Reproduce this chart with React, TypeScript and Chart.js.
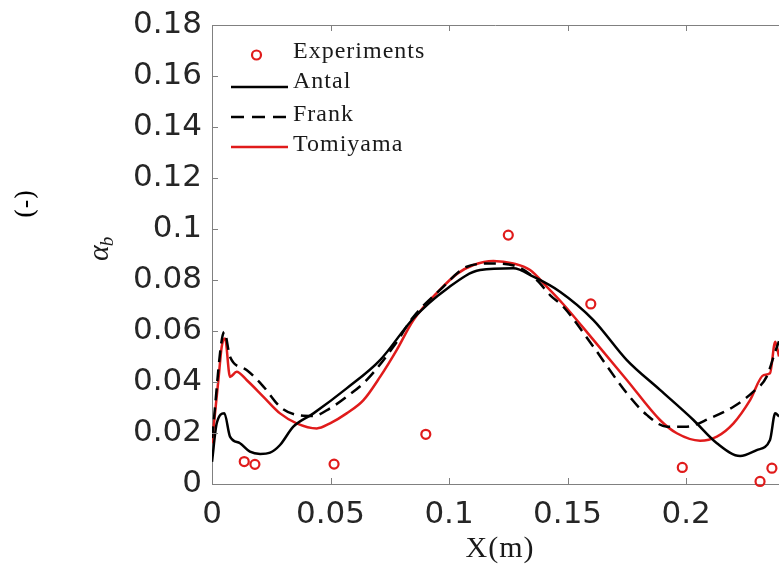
import React, { useEffect, useRef } from "react";
import { Chart, registerables } from "chart.js";
Chart.register(...registerables);

const xTicks = [0, 0.05, 0.1, 0.15, 0.2];
const yTicks = [0, 0.02, 0.04, 0.06, 0.08, 0.1, 0.12, 0.14, 0.16, 0.18];
const xMin = 0;
const xMax = 0.2392;
const yMin = 0;
const yMax = 0.18;

const expX = [0.0136, 0.0181, 0.0515, 0.0902, 0.125, 0.1598, 0.1984, 0.2312, 0.2362];
const expY = [0.0088, 0.0077, 0.0078, 0.0195, 0.0976, 0.0706, 0.0065, 0.001, 0.0062];

const antalX = [0, 0.002, 0.0052, 0.0076, 0.0118, 0.016, 0.0203, 0.0245, 0.0287, 0.0343, 0.0428, 0.0568, 0.0709, 0.085, 0.099, 0.1131, 0.1271, 0.1356, 0.1468, 0.1609, 0.175, 0.189, 0.2031, 0.213, 0.2228, 0.2298, 0.2354, 0.2376, 0.2392];
const antalY = [0.0087, 0.0238, 0.0277, 0.0186, 0.016, 0.0127, 0.0118, 0.0123, 0.0153, 0.0225, 0.0277, 0.0375, 0.0486, 0.065, 0.0765, 0.0839, 0.0846, 0.0813, 0.0754, 0.0643, 0.0486, 0.0369, 0.0251, 0.016, 0.011, 0.0133, 0.0173, 0.0277, 0.0265];

const frankX = [0, 0.0052, 0.0076, 0.0146, 0.0217, 0.0287, 0.0357, 0.0428, 0.0498, 0.0568, 0.0653, 0.0765, 0.085, 0.0962, 0.1075, 0.118, 0.128, 0.137, 0.1426, 0.1482, 0.1609, 0.175, 0.1834, 0.1919, 0.2003, 0.2101, 0.22, 0.2284, 0.234, 0.2376, 0.2392];
const frankY = [0.018, 0.0597, 0.0499, 0.0447, 0.0382, 0.0303, 0.0271, 0.0267, 0.0297, 0.0342, 0.0408, 0.0538, 0.0656, 0.0761, 0.0852, 0.0865, 0.0855, 0.08, 0.0741, 0.0695, 0.0538, 0.0356, 0.0271, 0.0225, 0.0225, 0.0258, 0.0303, 0.0362, 0.0421, 0.0519, 0.056];

const tomiX = [0, 0.0027, 0.0041, 0.0055, 0.0076, 0.0104, 0.0146, 0.0217, 0.0287, 0.0357, 0.0442, 0.0498, 0.0568, 0.0639, 0.0709, 0.0779, 0.085, 0.0962, 0.1035, 0.1103, 0.1187, 0.1271, 0.1342, 0.1412, 0.1482, 0.1609, 0.175, 0.189, 0.1961, 0.2059, 0.213, 0.22, 0.227, 0.2327, 0.2354, 0.2376, 0.2392];
const tomiY = [0.016, 0.0408, 0.0538, 0.0571, 0.042, 0.044, 0.0408, 0.0342, 0.0277, 0.0238, 0.0218, 0.0238, 0.0277, 0.0329, 0.042, 0.0525, 0.0643, 0.0762, 0.0825, 0.0859, 0.0875, 0.0865, 0.0839, 0.0774, 0.0705, 0.0565, 0.0408, 0.0251, 0.0199, 0.017, 0.0186, 0.0238, 0.0329, 0.0427, 0.0434, 0.0558, 0.05];

const RED = "#e01b1b";
const AXIS = "#808080";
const TEXT = "#262626";

const zip = (xs: number[], ys: number[]) => xs.map((x, i) => ({ x, y: ys[i] }));

const fmt = (v: number) => String(Number(v.toFixed(4)));

const decorPlugin = {
  id: "decor",
  afterDraw(chart: any) {
    const { ctx, chartArea, scales } = chart;
    const xs = scales.x;
    const ys = scales.y;
    ctx.save();
    // top border
    ctx.strokeStyle = AXIS;
    ctx.lineWidth = 1;
    ctx.beginPath();
    ctx.moveTo(chartArea.left, chartArea.top + 0.5);
    ctx.lineTo(chartArea.right, chartArea.top + 0.5);
    ctx.stroke();
    // tick marks inward
    ctx.beginPath();
    xTicks.forEach((v) => {
      const px = Math.round(xs.getPixelForValue(v)) + 0.5;
      ctx.moveTo(px, chartArea.bottom);
      ctx.lineTo(px, chartArea.bottom - 6);
      ctx.moveTo(px, chartArea.top);
      ctx.lineTo(px, chartArea.top + 6);
    });
    yTicks.forEach((v) => {
      const py = Math.round(ys.getPixelForValue(v)) + 0.5;
      ctx.moveTo(chartArea.left, py);
      ctx.lineTo(chartArea.left + 6, py);
    });
    ctx.stroke();

    // legend
    const lx0 = 231;
    const lx1 = 288;
    const tx = 293;
    ctx.font = "24px 'Liberation Serif'";
    (ctx as any).letterSpacing = "1px";
    ctx.fillStyle = "#1a1a1a";
    ctx.textBaseline = "alphabetic";
    ctx.textAlign = "left";
    // Experiments
    ctx.strokeStyle = RED;
    ctx.lineWidth = 2.2;
    ctx.beginPath();
    ctx.arc(256.5, 55, 4.5, 0, Math.PI * 2);
    ctx.stroke();
    ctx.fillText("Experiments", tx, 58);
    // Antal
    ctx.strokeStyle = "#000";
    ctx.lineWidth = 2.5;
    ctx.beginPath();
    ctx.moveTo(lx0, 87);
    ctx.lineTo(lx1, 87);
    ctx.stroke();
    ctx.fillText("Antal", tx, 88);
    // Frank
    ctx.setLineDash([13, 8]);
    ctx.beginPath();
    ctx.moveTo(lx0, 117);
    ctx.lineTo(lx1, 117);
    ctx.stroke();
    ctx.setLineDash([]);
    ctx.fillText("Frank", tx, 121);
    // Tomiyama
    ctx.strokeStyle = RED;
    ctx.beginPath();
    ctx.moveTo(lx0, 147);
    ctx.lineTo(lx1, 147);
    ctx.stroke();
    ctx.fillText("Tomiyama", tx, 151);

    // x axis title
    (ctx as any).letterSpacing = "1px";
    ctx.font = "30px 'Liberation Serif'";
    ctx.textAlign = "center";
    ctx.fillText("X(m)", 500, 557);
    (ctx as any).letterSpacing = "0px";

    // y axis title alpha_b
    ctx.save();
    ctx.translate(108, 261);
    ctx.rotate(-Math.PI / 2);
    ctx.textAlign = "left";
    ctx.font = "italic 30px 'Liberation Serif'";
    ctx.fillText("α", 0, 0);
    const aw = ctx.measureText("α").width;
    ctx.font = "italic 19px 'Liberation Serif'";
    ctx.fillText("b", aw - 1, 5);
    ctx.restore();

    // (-) label
    ctx.save();
    ctx.translate(34, 204);
    ctx.rotate(-Math.PI / 2);
    ctx.textAlign = "center";
    ctx.font = "26px 'DejaVu Serif'";
    ctx.fillStyle = "#000";
    ctx.fillText("(-)", 0, 0);
    ctx.restore();

    ctx.restore();
  },
};

export default function App() {
  const ref = useRef<HTMLCanvasElement>(null);
  useEffect(() => {
    const canvas = ref.current!;
    const lineDs = (label: string, xs: number[], ys: number[], color: string, dash: number[]) => ({
      label,
      data: zip(xs, ys),
      borderColor: color,
      backgroundColor: color,
      borderWidth: 2.5,
      borderDash: dash,
      pointRadius: 0,
      fill: false,
      tension: 0,
      cubicInterpolationMode: "monotone" as const,
    });
    const chart = new Chart(canvas, {
      type: "line",
      data: {
        datasets: [
          {
            label: "Experiments",
            data: zip(expX, expY),
            showLine: false,
            borderColor: RED,
            backgroundColor: "rgba(0,0,0,0)",
            pointRadius: 4.5,
            pointBorderWidth: 2.2,
            pointStyle: "circle",
            clip: false,
          } as any,
          lineDs("Antal", antalX, antalY, "#000000", []),
          lineDs("Frank", frankX, frankY, "#000000", [12, 7]),
          lineDs("Tomiyama", tomiX, tomiY, RED, []),
        ],
      },
      options: {
        animation: false,
        responsive: false,
        maintainAspectRatio: false,
        layout: { autoPadding: false, padding: { top: 25, right: 0, left: 0, bottom: 0 } },
        plugins: { legend: { display: false }, tooltip: { enabled: false } },
        scales: {
          x: {
            type: "linear",
            min: xMin,
            max: xMax,
            afterFit: (s: any) => {
              s.height = 82;
              s.paddingRight = 0;
              s.paddingLeft = 0;
            },
            afterBuildTicks: (s: any) => {
              s.ticks = xTicks.map((v) => ({ value: v }));
            },
            grid: { display: false, drawTicks: false },
            border: { display: true, color: AXIS, width: 1 },
            ticks: {
              padding: 12,
              color: TEXT,
              font: { family: "'DejaVu Sans'", size: 31 },
              maxRotation: 0,
              autoSkip: false,
              callback: (v: any) => fmt(Number(v)),
            },
          },
          y: {
            type: "linear",
            min: yMin,
            max: yMax,
            afterFit: (s: any) => {
              s.width = 212;
              s.paddingTop = 0;
              s.paddingBottom = 0;
            },
            afterBuildTicks: (s: any) => {
              s.ticks = yTicks.map((v) => ({ value: v }));
            },
            grid: { display: false, drawTicks: false },
            border: { display: true, color: AXIS, width: 1 },
            ticks: {
              padding: 10,
              color: TEXT,
              font: { family: "'DejaVu Sans'", size: 31 },
              autoSkip: false,
              callback: (v: any) => fmt(Number(v)),
            },
          },
        },
      },
      plugins: [decorPlugin],
    });
    return () => chart.destroy();
  }, []);
  return (
    <div style={{ position: "fixed", left: 0, top: 0, width: 779, height: 566, background: "#fff" }}>
      <canvas ref={ref} width={779} height={566} style={{ width: 779, height: 566 }} />
    </div>
  );
}
